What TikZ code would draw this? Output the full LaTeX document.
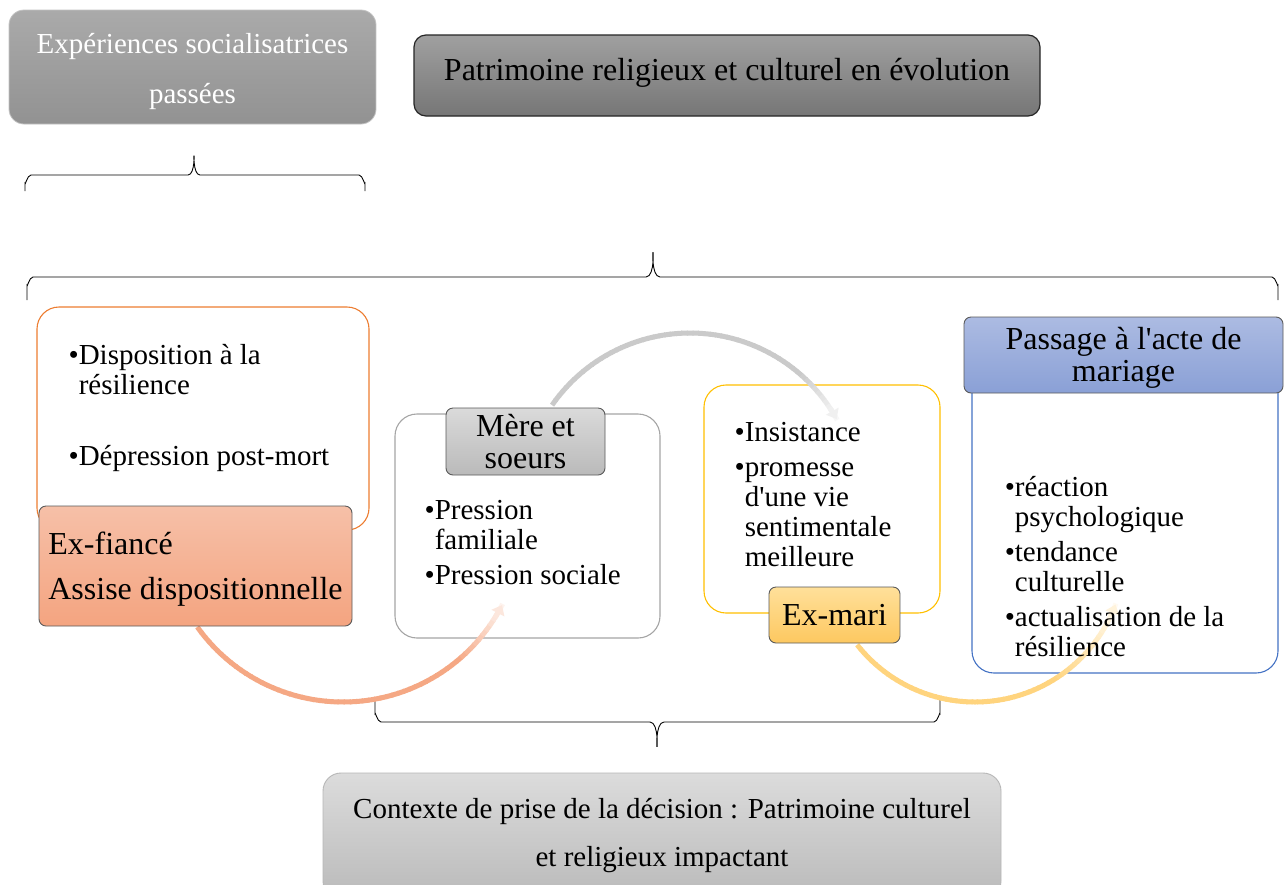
\documentclass[tikz,border=0pt]{standalone}
\usepackage{fontspec}
\setmainfont{Liberation Serif}
\usetikzlibrary{positioning, calc, arrows.meta}
\definecolor{pasttop}{RGB}{170,170,170}
\definecolor{pastbot}{RGB}{146,146,146}
\definecolor{patritop}{RGB}{160,160,160}
\definecolor{patribot}{RGB}{118,118,118}
\definecolor{salmontop}{RGB}{246,192,168}
\definecolor{salmonbot}{RGB}{244,164,128}
\definecolor{salmonarc}{RGB}{245,168,132}
\definecolor{greytop}{RGB}{218,218,218}
\definecolor{greybot}{RGB}{186,186,186}
\definecolor{greyarc}{RGB}{202,202,202}
\definecolor{goldtop}{RGB}{255,224,154}
\definecolor{goldbot}{RGB}{253,200,96}
\definecolor{goldarc}{RGB}{255,212,126}
\definecolor{bluetop}{RGB}{172,187,226}
\definecolor{bluebot}{RGB}{138,160,214}
\definecolor{orangeline}{RGB}{237,125,49}
\definecolor{goldline}{RGB}{255,192,0}
\definecolor{blueline}{RGB}{68,114,196}
\definecolor{greyline}{RGB}{165,165,165}
\definecolor{headline}{RGB}{90,90,90}

\newcommand{\headfont}{\fontsize{32}{32}\selectfont}
\newcommand{\listfont}{\fontsize{29}{30}\selectfont}
\newcommand{\apos}{\textquotesingle}

\tikzset{
  headbox/.style={draw=headline, line width=0.9pt, rounded corners=7pt, inner sep=0pt, align=center, font=\headfont},
  holder/.style={fill=white, line width=1.1pt, rounded corners=22pt, inner sep=0pt},
  listtext/.style={anchor=north west, inner sep=0pt, align=left, font=\listfont},
  arcline/.style={line width=5pt},
  bracket/.style={line width=0.9pt, black},
}

% arc that fades towards white near its end
\newcommand{\fadearc}[6]{%
  \foreach \k in {0,...,59}{%
    \pgfmathsetmacro\arcA{#2+(#3-#2)*\k/60}%
    \pgfmathsetmacro\arcB{#2+(#3-#2)*(\k+1.2)/60}%
    \pgfmathsetmacro\arcT{\k/60}%
    \pgfmathsetmacro\arcP{\arcT<#6 ? 100 : 100-94*(\arcT-#6)/(1-#6)}%
    \draw[arcline, draw=#5!\arcP!white] (#1) ++(\arcA:#4) arc[start angle=\arcA, end angle=\arcB, radius=#4];
  }%
  \pgfmathsetmacro\arcS{#3-(#3-#2)*0.04}%
  \draw[arcline, draw=#5!28!white, -{Triangle[length=9pt, width=14pt]}] (#1) ++(\arcS:#4) arc[start angle=\arcS, end angle=#3, radius=#4];
}

\begin{document}
\begin{tikzpicture}[x=1pt, y=-1pt]
\useasboundingbox (0,0) rectangle (1284,884);
\fill[white] (0,0) rectangle (1284,884);

% top row
\node[draw=pasttop!70!white, line width=0.8pt, rounded corners=15pt, top color=pasttop, bottom color=pastbot,
      minimum width=367pt, minimum height=114pt, inner sep=0pt] (past) at (192.5,67) {};
\node[inner sep=0pt, align=center, text=white, font=\fontsize{29}{50}\selectfont] (pasttext)
  at ($(past.center)+(0,5)$) {Expériences socialisatrices\\passées};
\node[headbox, draw=black!85, line width=1.2pt, rounded corners=12pt, top color=patritop, bottom color=patribot,
      minimum width=626pt, minimum height=81pt, text height=22pt, text depth=13pt] (patri) at (727,75.5)
  {Patrimoine religieux et culturel en évolution};

% braces
\draw[bracket] (25,191) -- (25,183) to[out=-90,in=180] (31,175) -- (188,175) to[out=0,in=90] (194,157)
  to[out=90,in=180] (200,175) -- (359,175) to[out=0,in=-90] (365,183) -- (365,191);
\draw[bracket] (27,300) -- (27,285) to[out=-90,in=180] (33,277) -- (646,277) to[out=0,in=90] (653,254)
  to[out=90,in=180] (660,277) -- (1272,277) to[out=0,in=-90] (1278,285) -- (1278,300);
\draw[bracket] (375,697) -- (375,714) to[out=90,in=180] (381,722) -- (650,722) to[out=0,in=-90] (657,745)
  to[out=-90,in=180] (664,722) -- (934,722) to[out=0,in=90] (940,714) -- (940,697);

% holders
\node[holder, draw=orangeline, minimum width=332pt, minimum height=223pt] (disp) at (203,418.5) {};
\node[holder, draw=greyline, minimum width=265pt, minimum height=224pt] (meres) at (527.5,526) {};
\node[holder, draw=goldline, minimum width=236pt, minimum height=228pt] (insist) at (822,499) {};
\node[holder, draw=blueline, minimum width=306pt, minimum height=313pt] (passbox) at (1125,516.5) {};

% cycle arcs
\coordinate (salmonc) at (343,523);
\coordinate (greyc) at (690,501);
\coordinate (goldc) at (975,552);
\fadearc{salmonc}{144.5}{27.3}{179}{salmonarc}{0.8}
\fadearc{greyc}{214.8}{330.8}{168}{greyarc}{0.82}
\fadearc{goldc}{141.8}{20.5}{150}{goldarc}{0.68}

% headers
\node[headbox, top color=salmontop, bottom color=salmonbot, minimum width=313pt, minimum height=120pt,
      align=left, font=\fontsize{32}{45}\selectfont] (fiance) at (195.5,566)
  {\rule{0pt}{28pt}Ex-fiancé\\Assise dispositionnelle};
\node[headbox, top color=greytop, bottom color=greybot, minimum width=159pt, minimum height=67pt] (merehd)
  at (525.5,441.5) {Mère et\\soeurs};
\node[headbox, top color=goldtop, bottom color=goldbot, minimum width=131pt, minimum height=56pt] (exmari)
  at (834.5,615) {Ex-mari};
\node[headbox, top color=bluetop, bottom color=bluebot, minimum width=319pt, minimum height=76pt] (passhd)
  at (1123.5,355) {\rule{0pt}{28pt}Passage à l\apos acte de\\mariage};

% lists
\node[listtext] (displist) at ($(disp.north west)+(32,34)$)
  {\rule{0pt}{24pt}•Disposition à la\\\phantom{•}résilience\\[41pt]•Dépression post-mort};
\node[listtext] (merelist) at ($(meres.north west)+(30,82)$)
  {\rule{0pt}{24pt}•Pression\\\phantom{•}familiale\\[5pt]•Pression sociale};
\node[listtext] (insistlist) at ($(insist.north west)+(31,33)$)
  {\rule{0pt}{24pt}•Insistance\\[5pt]•promesse\\\phantom{•}d\apos une vie\\\phantom{•}sentimentale\\\phantom{•}meilleure};
\node[listtext] (passlist) at ($(passhd.south west)+(41,79)$)
  {\rule{0pt}{24pt}•réaction\\\phantom{•}psychologique\\[5pt]•tendance\\\phantom{•}culturelle\\[5pt]•actualisation de la\\\phantom{•}résilience};

% bottom
\node[draw=greyline!80!white, line width=0.9pt, rounded corners=18pt, top color=greytop!95!white, bottom color=greybot,
      minimum width=678pt, minimum height=126pt, inner sep=0pt, align=center,
      font=\fontsize{29}{48}\selectfont] (contexte) at (662,836)
  {Contexte de prise de la décision : Patrimoine culturel\\et religieux impactant};
\end{tikzpicture}
\end{document}
